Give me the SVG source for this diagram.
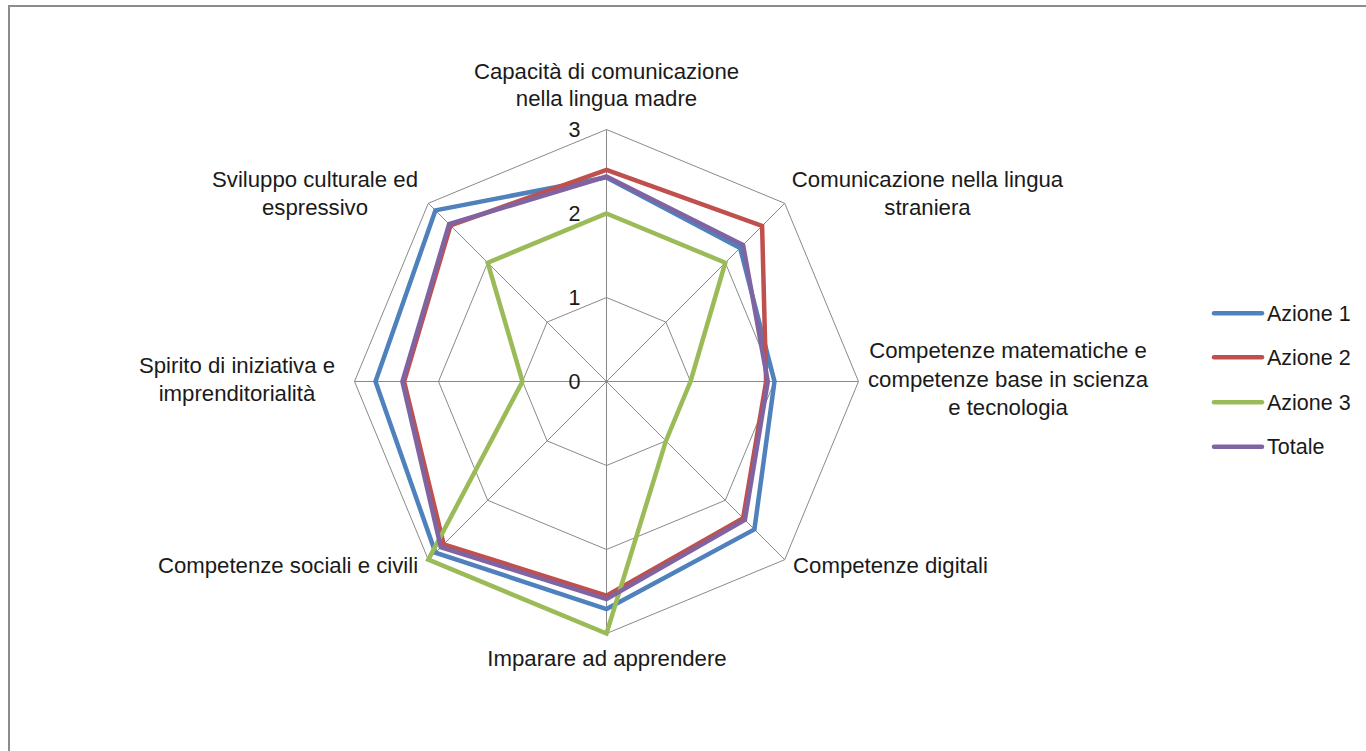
<svg xmlns="http://www.w3.org/2000/svg" width="1366" height="751" viewBox="0 0 1366 751">
<style>
.lbl{font-family:"Liberation Sans",Arial,sans-serif;font-size:22.2px;fill:#1a1a1a;text-anchor:middle}
.num{font-family:"Liberation Sans",Arial,sans-serif;font-size:21.5px;fill:#1a1a1a;text-anchor:middle}
.leg{font-family:"Liberation Sans",Arial,sans-serif;font-size:21.5px;fill:#1a1a1a}
.grid{fill:none;stroke:#8a8a8a;stroke-width:1}
.ser{fill:none;stroke-width:4.5;stroke-linejoin:miter}
.s1{stroke:#4F81BD}.s2{stroke:#C0504D}.s3{stroke:#9BBB59}.s4{stroke:#8064A2}
.legl{stroke-width:4.5;stroke-linecap:round}
</style>
<rect x="0" y="0" width="1366" height="751" fill="#ffffff"/>
<path d="M9,751 V6 H1366" fill="none" stroke="#8c8c8c" stroke-width="2"/>
<g id="grid">
<polygon class="grid" points="606.5,129.5 784.7,203.3 858.5,381.5 784.7,559.7 606.5,633.5 428.3,559.7 354.5,381.5 428.3,203.3"/>
<polygon class="grid" points="606.5,213.5 725.3,262.7 774.5,381.5 725.3,500.3 606.5,549.5 487.7,500.3 438.5,381.5 487.7,262.7"/>
<polygon class="grid" points="606.5,297.5 665.9,322.1 690.5,381.5 665.9,440.9 606.5,465.5 547.1,440.9 522.5,381.5 547.1,322.1"/>
<path class="grid" d="M606.5,381.5 L606.5,129.5 M606.5,381.5 L784.7,203.3 M606.5,381.5 L858.5,381.5 M606.5,381.5 L784.7,559.7 M606.5,381.5 L606.5,633.5 M606.5,381.5 L428.3,559.7 M606.5,381.5 L354.5,381.5 M606.5,381.5 L428.3,203.3"/>
</g>
<g id="axis-values">
<text class="num" x="574.5" y="137">3</text>
<text class="num" x="574.5" y="221">2</text>
<text class="num" x="574.5" y="305">1</text>
<text class="num" x="574.5" y="389">0</text>
</g>
<g id="series">
<polygon id="azione1" class="ser s1" points="606.5,177.4 740.1,247.9 774.5,381.5 754.4,529.4 606.5,609.1 435.4,552.6 375.5,381.5 435.4,210.4"/>
<polygon id="azione2" class="ser s2" points="606.5,169.8 762.1,225.9 766.1,381.5 743.1,518.1 606.5,595.7 443.7,544.3 404.1,381.5 450.5,225.5"/>
<polygon id="azione3" class="ser s3" points="606.5,213.5 725.3,262.7 690.5,381.5 665.9,440.9 606.5,633.5 428.3,559.7 522.5,381.5 487.7,262.7"/>
<polygon id="totale" class="ser s4" points="606.5,176.5 743.1,244.9 767.8,381.5 744.9,519.9 606.5,599.1 440.8,547.2 402.4,381.5 449.1,224.1"/>
</g>
<g id="labels">
<g id="lbl-capacita"><text class="lbl" x="606.5" y="79">Capacità di comunicazione</text><text class="lbl" x="606.5" y="106">nella lingua madre</text></g>
<g id="lbl-straniera"><text class="lbl" x="927.5" y="187">Comunicazione nella lingua</text><text class="lbl" x="927.5" y="215">straniera</text></g>
<g id="lbl-matematiche"><text class="lbl" x="1008" y="358">Competenze matematiche e</text><text class="lbl" x="1008" y="387">competenze base in scienza</text><text class="lbl" x="1008" y="415">e tecnologia</text></g>
<g id="lbl-digitali"><text class="lbl" x="890.5" y="573">Competenze digitali</text></g>
<g id="lbl-imparare"><text class="lbl" x="607" y="666">Imparare ad apprendere</text></g>
<g id="lbl-sociali"><text class="lbl" x="288" y="573">Competenze sociali e civili</text></g>
<g id="lbl-spirito"><text class="lbl" x="237" y="373">Spirito di iniziativa e</text><text class="lbl" x="237" y="401">imprenditorialità</text></g>
<g id="lbl-sviluppo"><text class="lbl" x="315" y="187">Sviluppo culturale ed</text><text class="lbl" x="315" y="215">espressivo</text></g>
</g>
<g id="legend">
<g id="leg-azione1"><line class="legl s1" x1="1214" y1="313.3" x2="1262" y2="313.3"/><text class="leg" x="1267" y="321">Azione 1</text></g>
<g id="leg-azione2"><line class="legl s2" x1="1214" y1="357.3" x2="1262" y2="357.3"/><text class="leg" x="1267" y="365">Azione 2</text></g>
<g id="leg-azione3"><line class="legl s3" x1="1214" y1="402.3" x2="1262" y2="402.3"/><text class="leg" x="1267" y="410">Azione 3</text></g>
<g id="leg-totale"><line class="legl s4" x1="1214" y1="446.7" x2="1262" y2="446.7"/><text class="leg" x="1267" y="454">Totale</text></g>
</g>
</svg>
